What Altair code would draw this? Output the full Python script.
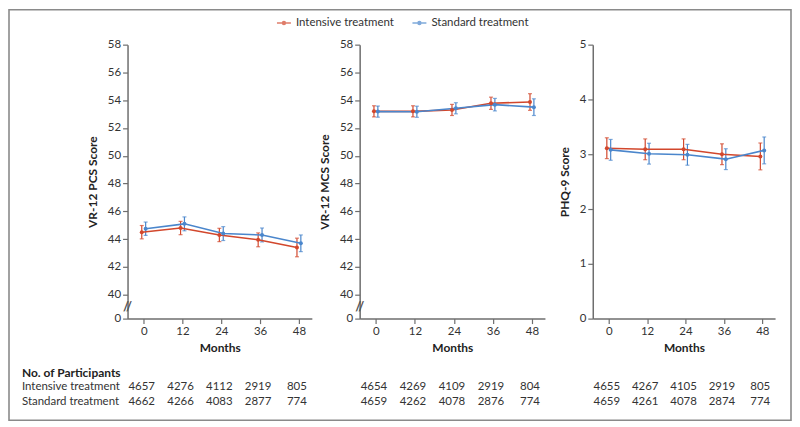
import altair as alt
import pandas as pd

months = [0, 12, 24, 36, 48]
groups = ["Intensive treatment", "Standard treatment"]
colors = ["#d2472c", "#4a86cc"]

# VR-12 PCS
pcs_int = [44.5, 44.8, 44.3, 43.95, 43.4]
pcs_int_err = [0.48, 0.48, 0.48, 0.5, 0.67]
pcs_std = [44.75, 45.1, 44.4, 44.3, 43.7]
pcs_std_err = [0.48, 0.5, 0.5, 0.5, 0.6]
# VR-12 MCS
mcs_int = [53.2, 53.2, 53.3, 53.78, 53.87]
mcs_int_err = [0.4, 0.4, 0.4, 0.44, 0.6]
mcs_std = [53.18, 53.17, 53.42, 53.68, 53.5]
mcs_std_err = [0.4, 0.4, 0.4, 0.45, 0.6]
# PHQ-9
phq_int = [3.11, 3.09, 3.09, 3.0, 2.96]
phq_int_err = [0.19, 0.19, 0.19, 0.19, 0.245]
phq_std = [3.08, 3.01, 2.99, 2.91, 3.07]
phq_std_err = [0.19, 0.19, 0.19, 0.19, 0.245]

# Number of participants
pcs_n_int = [4657, 4276, 4112, 2919, 805]
pcs_n_std = [4662, 4266, 4083, 2877, 774]
mcs_n_int = [4654, 4269, 4109, 2919, 804]
mcs_n_std = [4659, 4262, 4078, 2876, 774]
phq_n_int = [4655, 4267, 4105, 2919, 805]
phq_n_std = [4659, 4261, 4078, 2874, 774]

FONT = "Lato"


def make_df(v_int, e_int, v_std, e_std):
    rows = []
    for m, v, e in zip(months, v_int, e_int):
        rows.append({"month": m, "group": groups[0], "mean": v, "err": e})
    for m, v, e in zip(months, v_std, e_std):
        rows.append({"month": m, "group": groups[1], "mean": v, "err": e})
    return pd.DataFrame(rows)


def make_n(n_int, n_std):
    rows = []
    for m, n in zip(months, n_int):
        rows.append({"month": m, "group": groups[0], "n": n})
    for m, n in zip(months, n_std):
        rows.append({"month": m, "group": groups[1], "n": n})
    return pd.DataFrame(rows)


LEGEND = alt.Legend(
    orient="none", legendX=149, legendY=-30, direction="horizontal",
    title=None, labelFont=FONT, labelFontSize=11.5, labelColor="#333",
    symbolType="M-1,0L1,0M-0.2,0a0.2,0.2 0 1,0 0.4,0a0.2,0.2 0 1,0 -0.4,0",
    symbolSize=196, symbolStrokeWidth=1.6, columnPadding=14, labelOffset=4,
)


def panel(df, ndf, ytitle, yscale, yvalues, width, brk=False, first=False):
    xs = alt.Scale(domain=[-5, 52], nice=False, zero=False)
    xax = alt.Axis(values=months, title="Months", titlePadding=6)
    yax = alt.Axis(values=yvalues, title=ytitle, titlePadding=8, labelOverlap=False)

    def X(f):
        return alt.X(f, scale=xs, axis=xax)

    def Y(f):
        return alt.Y(f, scale=yscale, axis=yax)

    cs = alt.Scale(domain=groups, range=colors)
    color = alt.Color("group:N", scale=cs, legend=LEGEND)

    base = alt.Chart(df).transform_calculate(
        xpos="datum.month + (datum.group == 'Intensive treatment' ? -0.6 : 0.6)",
        lo="datum.mean - datum.err",
        hi="datum.mean + datum.err",
    )
    line = base.mark_line(strokeWidth=1.6).encode(x=X("xpos:Q"), y=Y("mean:Q"), color=color)
    rules = base.mark_rule(strokeWidth=1.2).encode(
        x=X("xpos:Q"), y=Y("lo:Q"), y2="hi:Q", color=color)
    cap_lo = base.mark_tick(orient="horizontal", size=4, thickness=1.2).encode(
        x=X("xpos:Q"), y=Y("lo:Q"), color=color)
    cap_hi = base.mark_tick(orient="horizontal", size=4, thickness=1.2).encode(
        x=X("xpos:Q"), y=Y("hi:Q"), color=color)
    pts = base.mark_circle(size=16, opacity=1).encode(
        x=X("xpos:Q"), y=Y("mean:Q"), color=color)

    nbase = alt.Chart(ndf).transform_calculate(xpos="datum.month")
    t_int = nbase.transform_filter(alt.datum.group == groups[0]).mark_text(
        font=FONT, fontSize=11.5, color="#333", dx=-2).encode(
        x=X("xpos:Q"), y=alt.value(344), text="n:Q")
    t_std = nbase.transform_filter(alt.datum.group == groups[1]).mark_text(
        font=FONT, fontSize=11.5, color="#333", dx=-2).encode(
        x=X("xpos:Q"), y=alt.value(359), text="n:Q")

    layers = [rules, cap_lo, cap_hi, line, pts, t_int, t_std]

    if brk:
        bdf = pd.DataFrame({"lab": ["//"], "v": [20]})
        brk_mark = alt.Chart(bdf).mark_text(
            font=FONT, fontSize=13, color="#555", fontWeight="bold").encode(
            x=alt.value(0), y=Y("v:Q"), text="lab:N")
        layers.append(brk_mark)

    if first:
        one = pd.DataFrame({"a": [0]})
        border = alt.Chart(one).mark_rect(
            fillOpacity=0, stroke="#8a8a8a", strokeWidth=1.6).encode(
            x=alt.value(-119), x2=alt.value(666), y=alt.value(-35), y2=alt.value(377))
        ldf = pd.DataFrame({"lab": ["No. of Participants", groups[0], groups[1]],
                            "bold": ["bold", "normal", "normal"]})
        head = alt.Chart(ldf).transform_filter(alt.datum.bold == "bold").mark_text(
            font=FONT, fontSize=12, fontWeight="bold", color="#222", align="left").encode(
            x=alt.value(-106), y=alt.value(330), text="lab:N")
        r1 = alt.Chart(ldf).transform_filter(alt.datum.lab == groups[0]).mark_text(
            font=FONT, fontSize=11.5, color="#333", align="left").encode(
            x=alt.value(-106), y=alt.value(344), text="lab:N")
        r2 = alt.Chart(ldf).transform_filter(alt.datum.lab == groups[1]).mark_text(
            font=FONT, fontSize=11.5, color="#333", align="left").encode(
            x=alt.value(-106), y=alt.value(359), text="lab:N")
        layers = [border] + layers + [head, r1, r2]

    return alt.layer(*layers).properties(width=width, height=275)


broken_vals = [0] + list(range(40, 59, 2))
p1 = panel(make_df(pcs_int, pcs_int_err, pcs_std, pcs_std_err), make_n(pcs_n_int, pcs_n_std),
           "VR-12 PCS Score",
           alt.Scale(domain=[0, 40, 58], range=[275, 251, 0], nice=False, zero=False),
           broken_vals, 185, brk=True, first=True)
p2 = panel(make_df(mcs_int, mcs_int_err, mcs_std, mcs_std_err), make_n(mcs_n_int, mcs_n_std),
           "VR-12 MCS Score",
           alt.Scale(domain=[0, 40, 58], range=[275, 251, 0], nice=False, zero=False),
           broken_vals, 186, brk=True)
p3 = panel(make_df(phq_int, phq_int_err, phq_std, phq_std_err), make_n(phq_n_int, phq_n_std),
           "PHQ-9 Score", alt.Scale(domain=[0, 5], nice=False), [0, 1, 2, 3, 4, 5], 183)

chart = alt.hconcat(p1, p2, p3, spacing=48, bounds="flush").resolve_scale(
    color="shared").resolve_legend(color="shared").properties(padding=0).configure_view(
    stroke=None).configure_axis(
    grid=False, domainColor="#6e6e6e", tickColor="#6e6e6e", domainWidth=1.5, tickWidth=1.2,
    tickSize=5, labelColor="#333", titleColor="#222", labelFont=FONT, titleFont=FONT,
    labelFontSize=11.5, titleFontSize=12, titleFontWeight="bold")

chart.save("out.html", embed_options={"renderer": "svg", "actions": False})
